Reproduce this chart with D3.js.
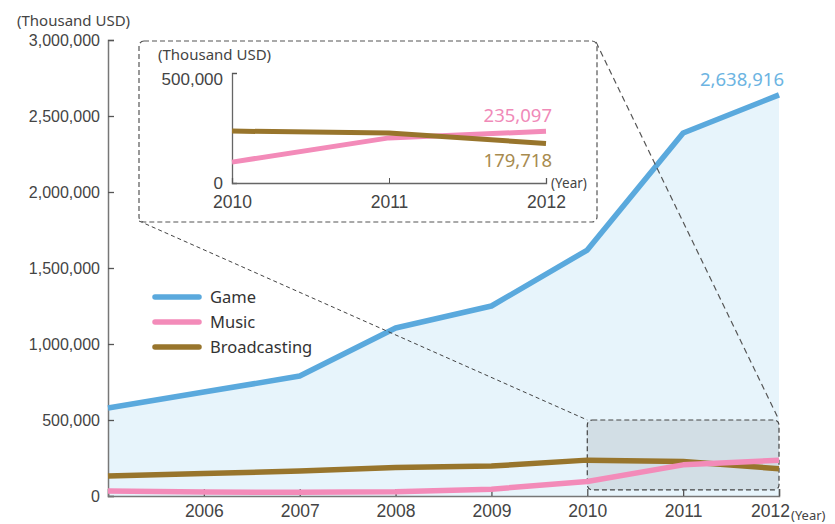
<!DOCTYPE html>
<html><head><meta charset="utf-8">
<script src="https://cdn.jsdelivr.net/npm/d3@7"></script>
<style>body{margin:0;background:#fff}svg{display:block;font-family:"Noto Sans","Open Sans",sans-serif}</style>
</head><body>
<svg id="c" width="835" height="524"></svg>
<script>
const years = [2005,2006,2007,2008,2009,2010,2011,2012];
const yearLabels = [2006,2007,2008,2009,2010,2011,2012];
const game = [579000,684000,789000,1105000,1250000,1618000,2388000,2638916];
const music = [33000,26000,25000,28000,45000,95000,205000,235097];
const broadcasting = [132000,148000,164000,188000,197000,236000,227000,179718];
const yTicks = [0,500000,1000000,1500000,2000000,2500000,3000000];
const insetYears = [2010,2011,2012];
const insetTicks = [0,500000];
const seriesNames = ["Game","Music","Broadcasting"];
const colors = {Game:"#5aa9dd",Music:"#f38bb9",Broadcasting:"#98752c"};

const svg = d3.select("#c");
const fmt = d3.format(",");
const x = d3.scaleLinear().domain([2005,2012]).range([108,779]);
const y = d3.scaleLinear().domain([0,3000000]).range([496,40]);

// area fill
svg.append("path").datum(years.map((yr,i)=>[yr,game[i]]))
  .attr("fill","#e7f4fb")
  .attr("d",d3.area().x(d=>x(d[0])).y0(y(0)).y1(d=>y(d[1])));

// highlight rect
svg.append("rect").attr("x",x(2010)).attr("y",y(500000)).attr("width",x(2012)-x(2010))
  .attr("height",y(40000)-y(500000)).attr("rx",5)
  .attr("fill","#d2dee5").attr("stroke","#444").attr("stroke-dasharray","5,3").attr("stroke-width",1.2);

// axes
const yAxis = d3.axisRight(y).tickValues(yTicks).tickSize(6).tickFormat(fmt);
const ga = svg.append("g").attr("transform",`translate(${x(2005)},0)`).call(yAxis);
ga.selectAll("text").attr("x",-8).attr("text-anchor","end").attr("font-size",16).attr("fill","#444");
const xAxis = d3.axisTop(x).tickValues(yearLabels).tickSize(7).tickFormat(d3.format("d"));
const gx = svg.append("g").attr("transform",`translate(0,${y(0)})`).call(xAxis);
gx.selectAll("text").attr("y",9).attr("dy","0.71em").attr("font-size",17.5).attr("fill","#444")
  .attr("dx",d=>d===2012?-9:0);
[ga,gx].forEach(g=>{g.select(".domain").attr("stroke","#777").attr("stroke-width",1.5);g.selectAll(".tick line").attr("stroke","#555").attr("stroke-width",1.3);g.selectAll("text").attr("font-family",null);});
svg.append("text").attr("x",791).attr("y",520).attr("font-size",13).attr("fill","#444").text("(Year)");
svg.append("text").attr("x",17).attr("y",26).attr("font-size",15).attr("fill","#444").text("(Thousand USD)");

// lines
const line = d3.line().x(d=>x(d[0])).y(d=>y(d[1]));
const data = {Game:game,Music:music,Broadcasting:broadcasting};
["Game","Broadcasting","Music"].forEach(n=>{
  svg.append("path").datum(years.map((yr,i)=>[yr,data[n][i]]))
    .attr("fill","none").attr("stroke",colors[n]).attr("stroke-width",5.5)
    .attr("stroke-linejoin","round").attr("d",line);
});
svg.append("text").attr("x",x(2012)+5).attr("y",y(game[7])-9).attr("text-anchor","end")
  .attr("font-size",18.5).attr("fill","#6cb4e2").text(fmt(game[7]));

// legend
seriesNames.forEach((n,i)=>{
  const yy = 297+i*25;
  svg.append("line").attr("x1",155).attr("x2",199).attr("y1",yy).attr("y2",yy)
    .attr("stroke",colors[n]).attr("stroke-width",5.5).attr("stroke-linecap","round");
  svg.append("text").attr("x",210).attr("y",yy+6).attr("font-size",16.5).attr("fill","#333").text(n);
});

// inset
const ix = d3.scaleLinear().domain([2010,2012]).range([232,546]);
const iy = d3.scaleLinear().domain([0,500000]).range([183,73]);
svg.append("line").attr("x1",139).attr("y1",221).attr("x2",x(2010)).attr("y2",y(500000))
  .attr("stroke","#444").attr("stroke-dasharray","4,3").attr("stroke-width",1);
svg.append("line").attr("x1",596).attr("y1",42).attr("x2",x(2012)).attr("y2",y(500000))
  .attr("stroke","#555").attr("stroke-dasharray","6,4").attr("stroke-width",1.2);
svg.append("rect").attr("x",139).attr("y",41).attr("width",458).attr("height",181).attr("rx",5)
  .attr("fill","#fff").attr("stroke","#555").attr("stroke-dasharray","5,3").attr("stroke-width",1.2);
svg.append("text").attr("x",158).attr("y",60).attr("font-size",15).attr("fill","#444").text("(Thousand USD)");
const iya = svg.append("g").attr("transform",`translate(${ix(2010)},0)`).call(d3.axisRight(iy).tickValues(insetTicks).tickSize(5).tickFormat(fmt));
iya.selectAll("text").attr("x",-9).attr("text-anchor","end").attr("font-size",17).attr("fill","#444")
  .attr("dy",d=>d>0?"0.7em":"0.32em");
const ixa = svg.append("g").attr("transform",`translate(0,${iy(0)})`).call(d3.axisTop(ix).tickValues(insetYears).tickSize(5).tickFormat(d3.format("d")));
ixa.selectAll("text").attr("y",13).attr("dy","0.71em").attr("font-size",17.5).attr("fill","#444");
[iya,ixa].forEach(g=>{g.select(".domain").attr("stroke","#666").attr("stroke-width",1.3);g.selectAll(".tick line").attr("stroke","#555");g.selectAll("text").attr("font-family",null);});
svg.append("text").attr("x",551).attr("y",188).attr("font-size",13.5).attr("fill","#444").text("(Year)");
const iline = d3.line().x(d=>ix(d[0])).y(d=>iy(d[1]));
["Music","Broadcasting"].forEach(n=>{
  svg.append("path").datum(insetYears.map(yr=>[yr,data[n][years.indexOf(yr)]]))
    .attr("fill","none").attr("stroke",colors[n]).attr("stroke-width",5)
    .attr("stroke-linejoin","round").attr("d",iline);
});
svg.append("text").attr("x",552).attr("y",122).attr("text-anchor","end").attr("font-size",18.5).attr("fill","#f08ab8").text(fmt(music[7]));
svg.append("text").attr("x",552).attr("y",167).attr("text-anchor","end").attr("font-size",18.5).attr("fill","#a88b4f").text(fmt(broadcasting[7]));
</script>
</body></html>
